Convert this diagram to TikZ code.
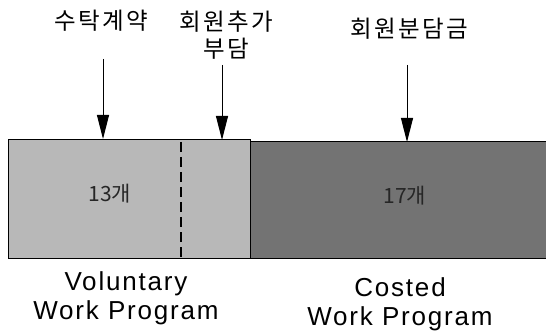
\documentclass[tikz,border=0pt]{standalone}
\usepackage{fontspec}
\setmainfont{Liberation Sans}
\newfontfamily\krfont{Noto Sans CJK KR}
\usetikzlibrary{arrows.meta}
\begin{document}
\begin{tikzpicture}[x=1pt,y=-1pt,
  kr/.style={font=\krfont\addfontfeatures{LetterSpace=10}\fontsize{23.5}{27}\selectfont, inner sep=0pt, align=center},
  en/.style={font=\addfontfeatures{LetterSpace=7}\fontsize{26}{29}\selectfont, inner sep=0pt, align=center},
  cnt/.style={font=\krfont\fontsize{21}{24}\selectfont, inner sep=0pt, text=black!85},
  ptr/.style={line width=1pt, -{Triangle[length=24pt,width=12pt]}},
  lbox/.style={draw=black, line width=1.2pt, fill=black!28},
  rbox/.style={draw=black, line width=1.2pt, fill=black!55}]
\useasboundingbox (0,0) rectangle (546,331);
\begin{scope}
\clip (0,0) rectangle (546,331);
\node[lbox, minimum width=242pt, minimum height=119pt, anchor=north west, inner sep=0pt] (vol) at (8,139) {};
\node[rbox, minimum width=310pt, minimum height=117pt, anchor=north west, inner sep=0pt] (cost) at (250,141) {};
\end{scope}
\draw[line width=1.2pt, dash pattern=on 10pt off 5pt] (181,142) -- (181,257);
\node[cnt] (n13) at (110,194) {13개};
\node[cnt] (n17) at (405,196) {17개};
\node[kr] (l1) at (101,21) {수탁계약};
\node[kr] (l2) at (226,35) {회원추가\\부담};
\node[kr] (l3) at (409,29) {회원분담금};
\coordinate (s1) at (103,59);
\coordinate (s2) at (222,65);
\coordinate (s3) at (407,65);
\coordinate (e1) at (103,139);
\coordinate (e2) at (222,140);
\coordinate (e3) at (407,142);
\draw[ptr] (s1) -- (e1);
\draw[ptr] (s2) -- (e2);
\draw[ptr] (s3) -- (e3);
\node[en] (t1) at (126,298) {Voluntary\\Work Program};
\node[en] (t2) at (400,304) {Costed\\Work Program};
\end{tikzpicture}
\end{document}
